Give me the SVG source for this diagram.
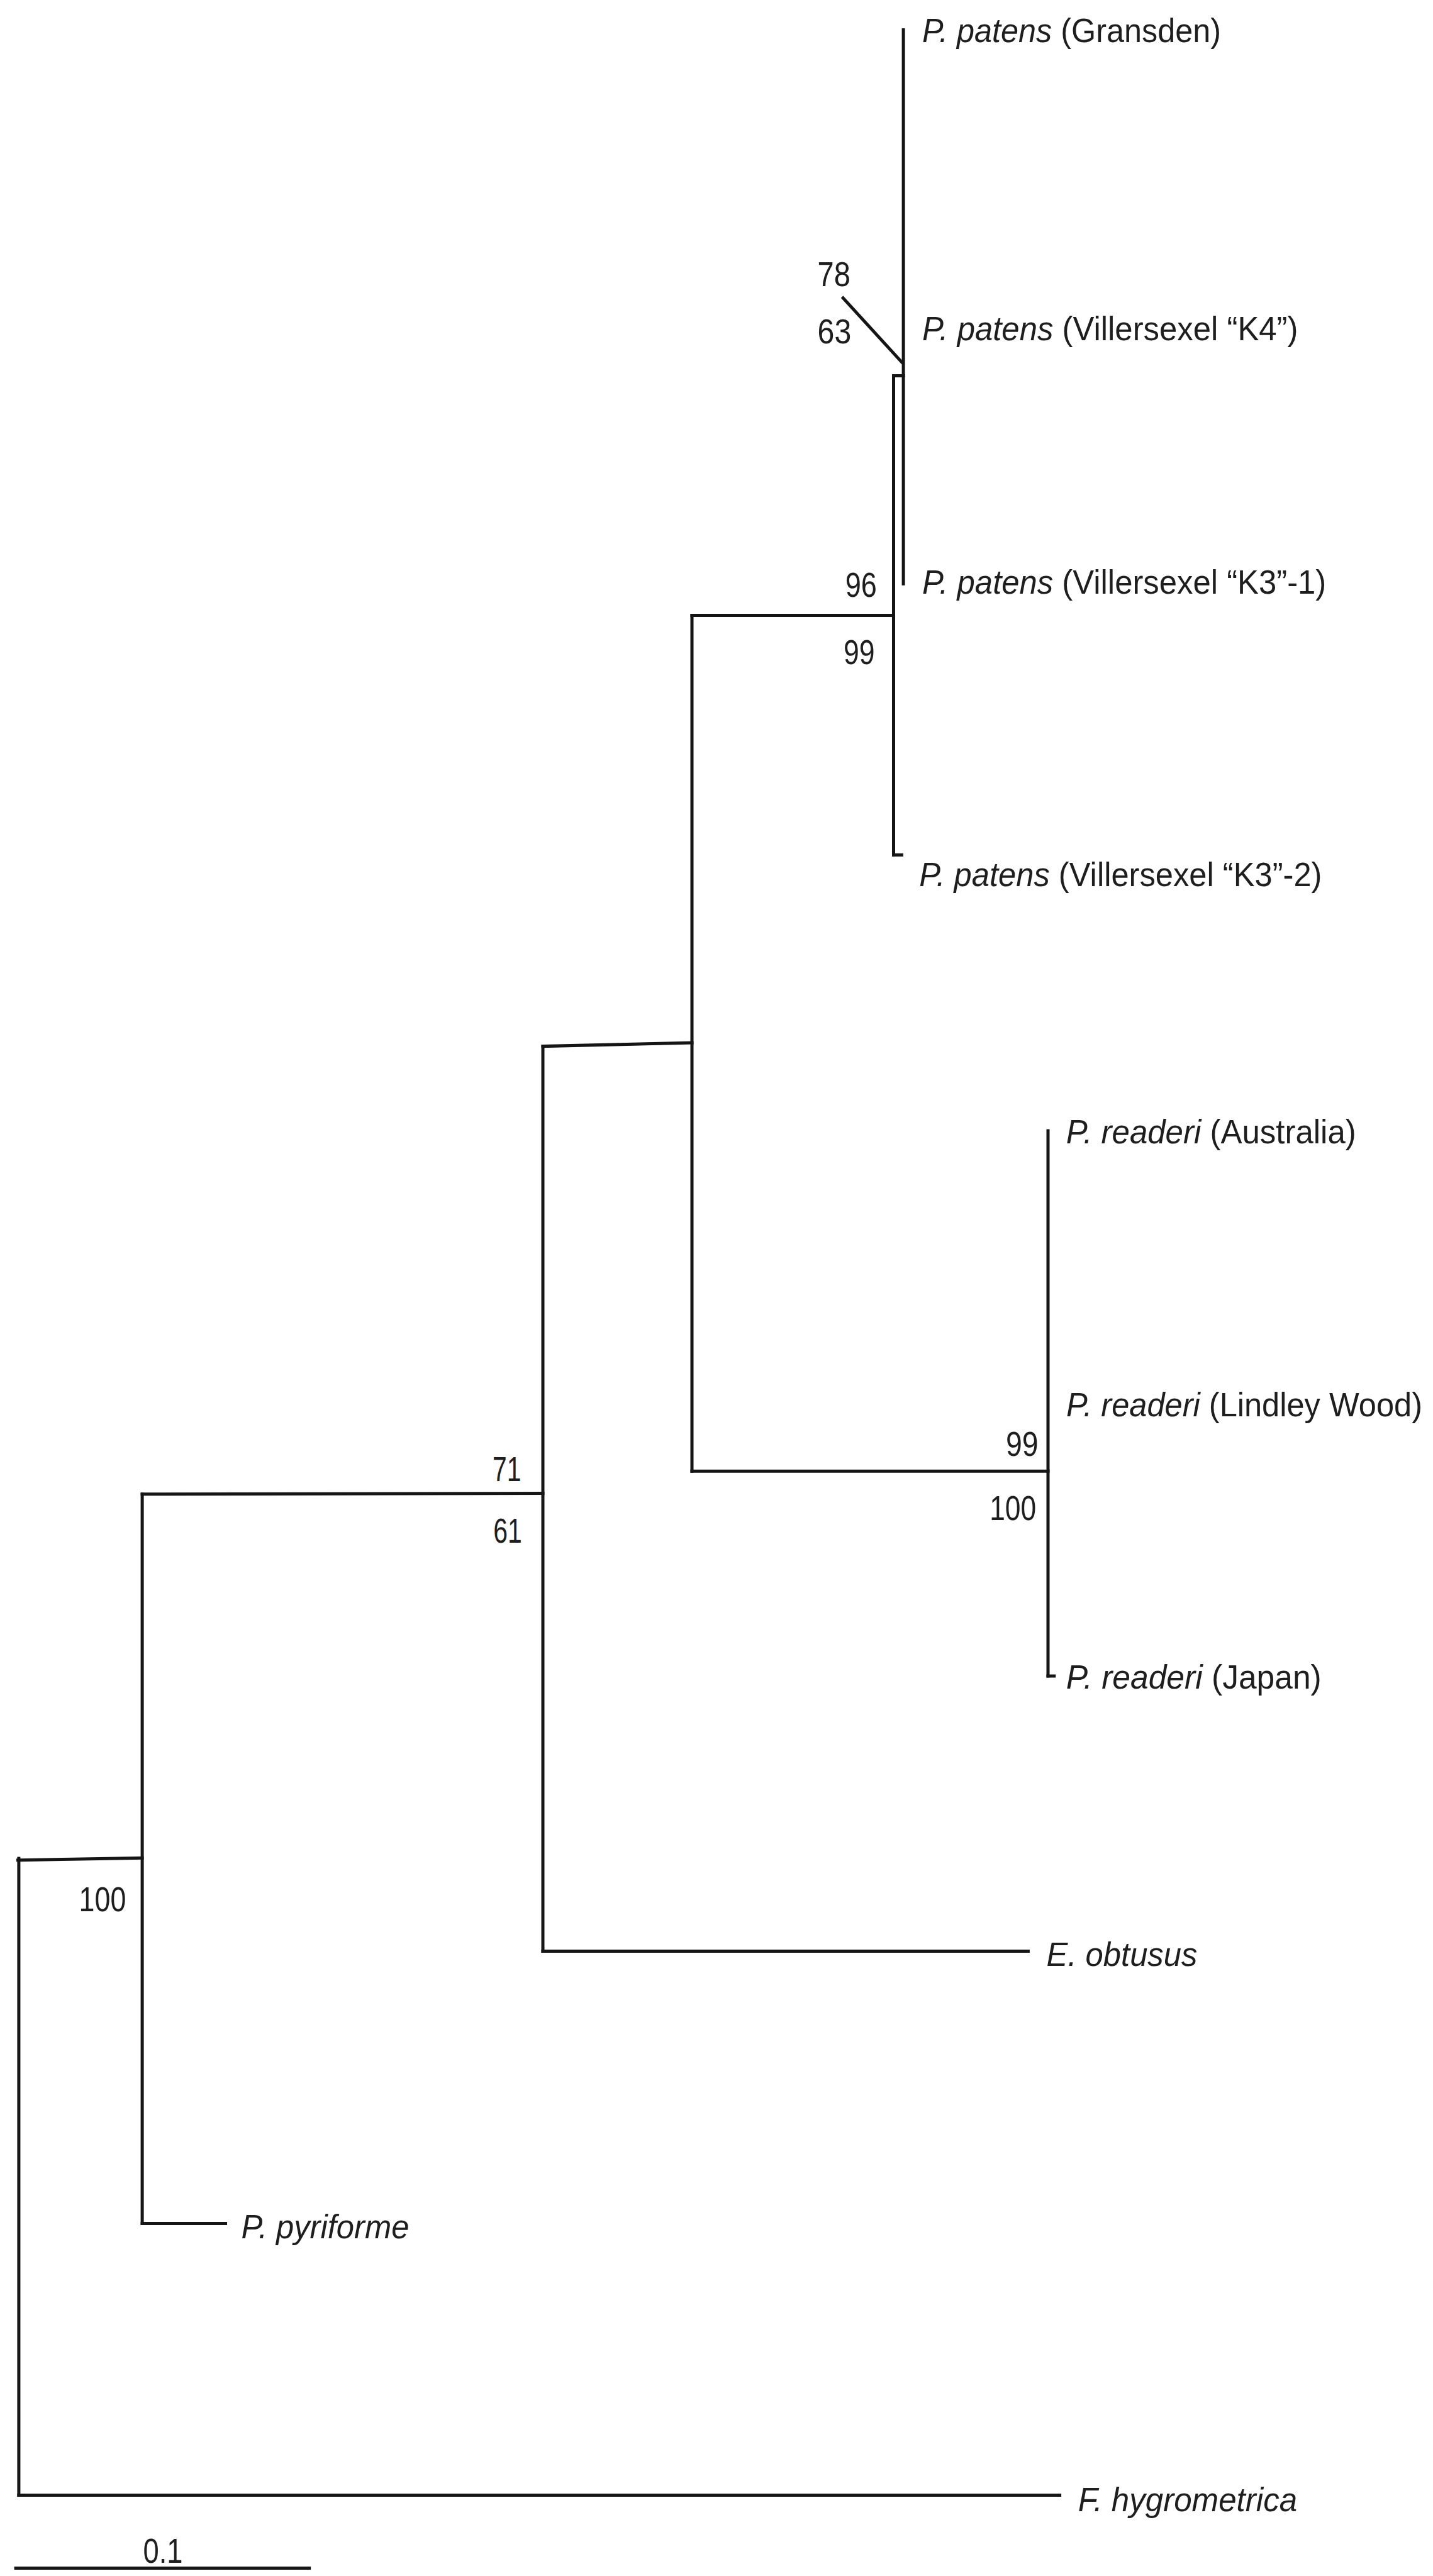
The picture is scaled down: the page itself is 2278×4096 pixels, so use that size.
<svg xmlns="http://www.w3.org/2000/svg" width="2278" height="4096" viewBox="0 0 2278 4096">
<style>
.br{stroke:#151515;stroke-width:5;fill:none;stroke-linecap:square}
.lb{font-family:"Liberation Sans",Arial,sans-serif;font-size:54px;fill:#1e1e1e}
.nm{font-family:"Liberation Sans",Arial,sans-serif;font-size:55px;fill:#1e1e1e}
.it{font-style:italic}
</style>
<rect width="2278" height="4096" fill="#ffffff"/>
<g id="connectors">
<line class="br" x1="29.9" y1="2955" x2="29.9" y2="3967.4"/>
<line class="br" x1="28.5" y1="2957.7" x2="226.1" y2="2954.3"/>
<line class="br" x1="29.9" y1="3967.4" x2="1684.6" y2="3967.4"/>
<line class="br" x1="226.1" y1="2375.8" x2="226.1" y2="3535.6"/>
<line class="br" x1="226.1" y1="2375.8" x2="863" y2="2374.5"/>
<line class="br" x1="226.1" y1="3535.6" x2="358.5" y2="3535.6"/>
<line class="br" x1="863" y1="1663.6" x2="863" y2="3102.4"/>
<line class="br" x1="863" y1="1663.6" x2="1100" y2="1658.1"/>
<line class="br" x1="863" y1="3102.4" x2="1634.4" y2="3102.4"/>
<line class="br" x1="1100" y1="978.4" x2="1100" y2="2339.2"/>
<line class="br" x1="1100" y1="978.4" x2="1420.5" y2="978.4"/>
<line class="br" x1="1100" y1="2339.2" x2="1666" y2="2339.2"/>
<line class="br" x1="1666" y1="1798" x2="1666" y2="2665"/>
<line class="br" x1="1666" y1="2665" x2="1675.8" y2="2665"/>
<line class="br" x1="1420.5" y1="597.5" x2="1420.5" y2="1359.4"/>
<line class="br" x1="1420.5" y1="1359.4" x2="1433.4" y2="1359.4"/>
<line class="br" x1="1420.5" y1="597.5" x2="1436.1" y2="597.5"/>
<line class="br" x1="1436.1" y1="47.5" x2="1436.1" y2="928.2"/>
<line class="br" x1="1340.3" y1="473.9" x2="1433.4" y2="575.8"/>
<line class="br" x1="25.1" y1="4083.5" x2="491.6" y2="4083.5"/>
</g>
<g id="leaf-gransden"><text class="lb" x="1466" y="67.2" textLength="475" lengthAdjust="spacingAndGlyphs"><tspan class="it">P. patens</tspan> (Gransden)</text></g>
<g id="leaf-k4"><text class="lb" x="1466" y="541.2" textLength="597.5" lengthAdjust="spacingAndGlyphs"><tspan class="it">P. patens</tspan> (Villersexel “K4”)</text></g>
<g id="leaf-k3-1"><text class="lb" x="1466" y="943.8" textLength="642.3" lengthAdjust="spacingAndGlyphs"><tspan class="it">P. patens</tspan> (Villersexel “K3”-1)</text></g>
<g id="leaf-k3-2"><text class="lb" x="1461.2" y="1408.9" textLength="640.3" lengthAdjust="spacingAndGlyphs"><tspan class="it">P. patens</tspan> (Villersexel “K3”-2)</text></g>
<g id="leaf-australia"><text class="lb" x="1694.8" y="1817.7" textLength="461" lengthAdjust="spacingAndGlyphs"><tspan class="it">P. readeri</tspan> (Australia)</text></g>
<g id="leaf-lindley"><text class="lb" x="1695" y="2252.2" textLength="566" lengthAdjust="spacingAndGlyphs"><tspan class="it">P. readeri</tspan> (Lindley Wood)</text></g>
<g id="leaf-japan"><text class="lb" x="1694.8" y="2685.4" textLength="406" lengthAdjust="spacingAndGlyphs"><tspan class="it">P. readeri</tspan> (Japan)</text></g>
<g id="leaf-obtusus"><text class="lb it" x="1663.6" y="3126.1" textLength="239.7" lengthAdjust="spacingAndGlyphs">E. obtusus</text></g>
<g id="leaf-pyriforme"><text class="lb it" x="383.6" y="3559.3" textLength="266.8" lengthAdjust="spacingAndGlyphs">P. pyriforme</text></g>
<g id="leaf-hygrometrica"><text class="lb it" x="1713.8" y="3992.5" textLength="348.3" lengthAdjust="spacingAndGlyphs">F. hygrometrica</text></g>
<g id="support-values">
<text class="nm" x="1299.6" y="454.9" textLength="52.3" lengthAdjust="spacingAndGlyphs">78</text>
<text class="nm" x="1299.6" y="545.9" textLength="53.6" lengthAdjust="spacingAndGlyphs">63</text>
<text class="nm" x="1343.7" y="949.2" textLength="50.2" lengthAdjust="spacingAndGlyphs">96</text>
<text class="nm" x="1341" y="1055.8" textLength="49.6" lengthAdjust="spacingAndGlyphs">99</text>
<text class="nm" x="782.9" y="2354.8" textLength="45.5" lengthAdjust="spacingAndGlyphs">71</text>
<text class="nm" x="784.2" y="2452.5" textLength="45.5" lengthAdjust="spacingAndGlyphs">61</text>
<text class="nm" x="1599" y="2315.4" textLength="51.6" lengthAdjust="spacingAndGlyphs">99</text>
<text class="nm" x="1573.2" y="2416.6" textLength="74" lengthAdjust="spacingAndGlyphs">100</text>
<text class="nm" x="125.6" y="3039.2" textLength="74.7" lengthAdjust="spacingAndGlyphs">100</text>
</g>
<g id="scale-bar"><text class="nm" x="227.5" y="4074.7" textLength="63.1" lengthAdjust="spacingAndGlyphs">0.1</text></g>
</svg>
